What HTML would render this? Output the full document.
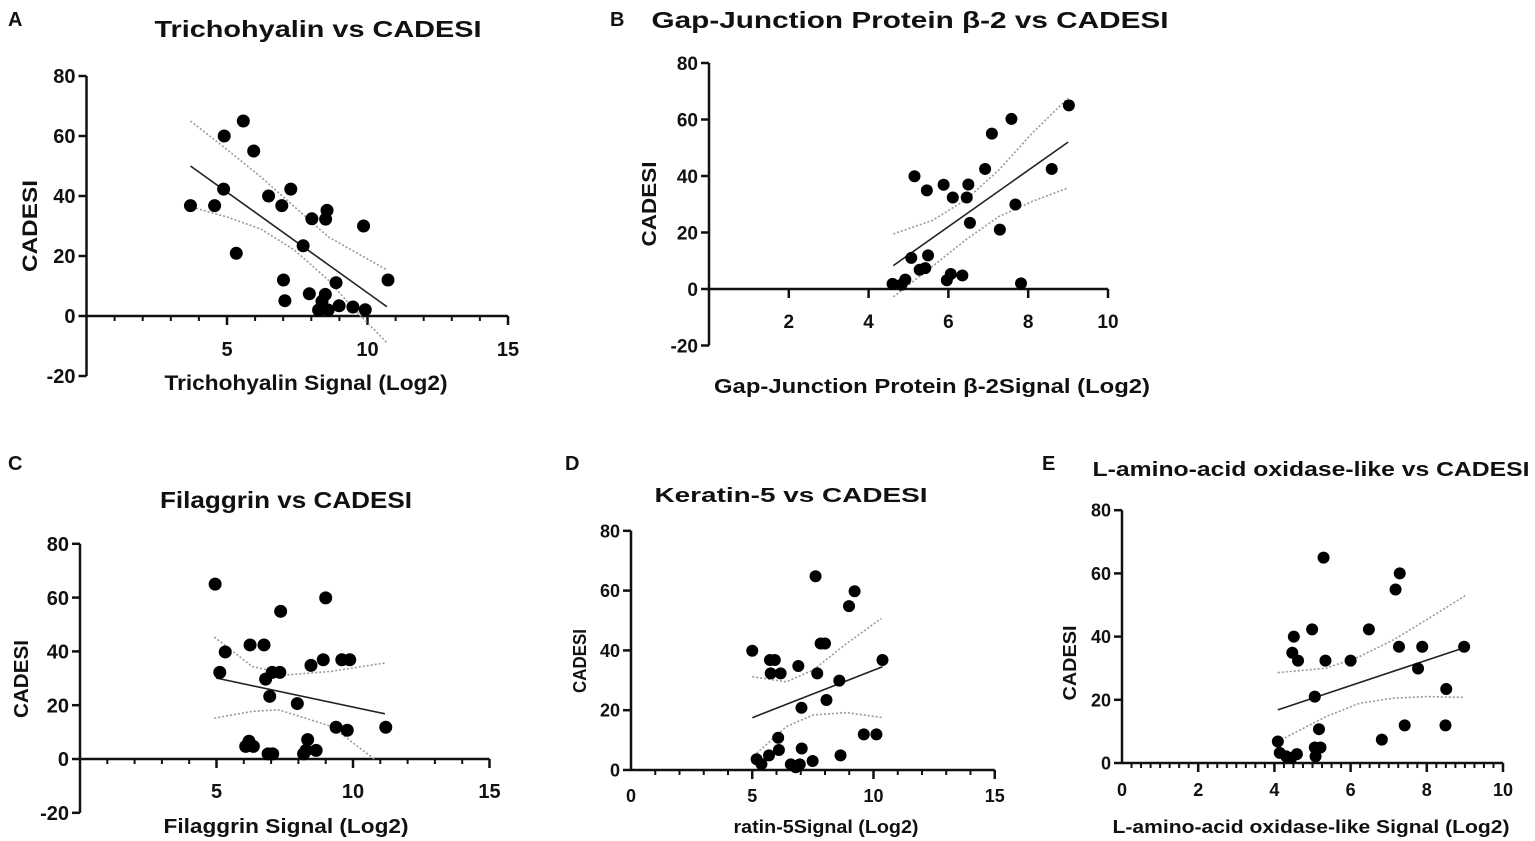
<!DOCTYPE html>
<html><head><meta charset="utf-8"><style>
html,body{margin:0;padding:0;background:#fff}
svg{display:block}
text{font-family:"Liberation Sans",sans-serif;font-weight:bold;fill:#111}
</style></head><body>
<svg id="fig" width="1535" height="841" viewBox="0 0 1535 841"></svg>
<script>
// ---- Panel A data ----
const aX=[3.7,4.9,5.58,5.95,4.88,4.56,5.33,6.48,7.27,6.95,7.71,8.02,8.56,8.51,9.86,10.73,7.01,7.06,7.93,8.5,8.38,8.88,8.99,9.48,9.92,8.26,8.6];
const aY=[36.8,60,65,55,42.3,36.8,20.9,40,42.3,36.8,23.4,32.4,35.2,32.3,30,12,12,5.1,7.4,7.2,4.9,11.1,3.4,3,2.1,2,2];
const aFitX=[3.7,10.69];const aFitY=[50,3.1];
const aUpX=[3.7,5.0,6.2,7.4,8.6,10.7];const aUpY=[65,55.5,46.4,36.4,26.4,15.3];
const aLoX=[3.9,5.0,6.2,7.4,8.6,9.5,10.7];const aLoY=[35.9,33,29,22,12,2.5,-9];
// ---- Panel B data ----
const bX=[4.6,4.82,4.92,5.07,5.15,5.28,5.42,5.49,5.46,5.88,6.11,5.96,6.06,6.35,6.46,6.5,6.54,6.92,7.09,7.29,7.58,7.68,7.82,8.59,9.02];
const bY=[1.8,1.5,3.3,11,39.9,6.8,7.4,11.9,34.9,36.9,32.4,3.1,5.3,4.8,32.4,37,23.4,42.5,55,21,60.2,29.9,2,42.5,65];
const bFitX=[4.62,9.0];const bFitY=[8.3,52];
const bUpX=[4.62,5.6,6.44,7.27,8.1,9.0];const bUpY=[19.5,24.3,31.6,42.2,55.2,67.6];
const bLoX=[4.62,5.6,6.44,7.27,8.1,9.0];const bLoY=[-2.8,8,17.5,25.7,31,35.8];
// ---- Panel C data ----
const cX=[4.95,5.12,5.32,6.23,6.74,7.35,9.0,6.8,7.04,7.32,6.95,7.96,8.46,8.91,9.59,9.88,9.38,9.79,11.2,6.07,6.19,6.35,6.89,7.06,8.19,8.34,8.28,8.65];
const cY=[65,32.2,39.8,42.4,42.4,54.9,59.9,29.7,32.2,32.2,23.3,20.6,34.8,36.9,36.9,36.9,11.8,10.7,11.8,4.7,6.6,4.7,1.9,1.9,1.9,7.2,3.2,3.2];
const cFitX=[4.98,11.17];const cFitY=[30.1,16.8];
const cUpX=[4.92,6.31,7.65,9.22,11.17];const cUpY=[45.3,34.4,31.3,32.6,35.7];
const cLoX=[4.92,6.31,7.28,9.22,10.8];const cLoY=[15.2,17.7,18.3,12.1,-0.2];
// ---- Panel D data ----
const dX=[5.0,5.73,5.93,5.76,6.17,6.9,7.61,8.99,9.22,7.82,8.0,7.68,8.59,8.06,7.03,10.37,6.07,6.1,5.69,5.18,5.38,6.59,6.96,6.79,7.04,7.49,8.64,9.6,10.12];
const dY=[39.9,36.8,36.8,32.3,32.3,34.8,64.8,54.8,59.8,42.3,42.3,32.3,29.9,23.4,20.8,36.8,10.8,6.7,4.9,3.6,2,1.9,1.9,0.9,7.2,3,4.9,11.9,11.9];
const dFitX=[5.0,10.37];const dFitY=[17.5,34.5];
const dUpX=[5,6.41,7.51,8.89,10.33];const dUpY=[31.2,29.5,33.4,42.3,50.7];
const dLoX=[5.18,6.41,7.51,8.89,10.33];const dLoY=[5.6,14.5,18.4,19.2,17.6];
// ---- Panel E data ----
const eX=[5.29,7.29,7.18,4.99,6.48,4.51,4.47,4.62,5.34,6.0,7.27,7.88,8.98,7.77,5.06,8.51,7.42,8.49,6.82,4.09,5.17,5.06,5.21,5.08,4.14,4.31,4.44,4.59];
const eY=[65,60,54.9,42.3,42.3,40,34.9,32.4,32.4,32.4,36.8,36.8,36.8,29.9,21,23.4,11.9,11.9,7.4,6.8,10.7,4.9,4.9,2.1,3.2,2.1,1.6,2.8];
const eFitX=[4.09,8.98];const eFitY=[16.8,36.5];
const eUpX=[4.09,5.36,6.24,7.11,7.99,9.04];const eUpY=[28.6,30,33.7,38.9,45.3,53.2];
const eLoX=[4.09,5.36,6.24,7.11,7.99,8.95];const eLoY=[6.8,14.7,18.9,20.5,21,20.8];

const NS='http://www.w3.org/2000/svg';
const svg=document.getElementById('fig');
function mk(tag,attrs,parent){const e=document.createElementNS(NS,tag);for(const k in attrs)e.setAttribute(k,attrs[k]);(parent||svg).appendChild(e);return e;}
function txt(s,x,y,size,parent,anchor,rot,len){const t=mk('text',{x:x,y:y,'font-size':size,'text-anchor':anchor||'middle'},parent);if(rot)t.setAttribute('transform','rotate(-90 '+x+' '+y+')');if(len){t.setAttribute('textLength',len);t.setAttribute('lengthAdjust','spacingAndGlyphs');}t.textContent=s;return t;}

function panel(p){
  const g=mk('g',{});
  
  
  const sx=v=>p.ox+v*p.kx, sy=v=>p.oy-v*p.ky;
  const ya=mk('line',{x1:p.ox,y1:sy(p.ymin),x2:p.ox,y2:sy(80),stroke:'#111','stroke-width':2.5},g);
  
  
  for(let v=p.ymin;v<=80;v+=20){
    mk('line',{x1:p.ox-8,y1:sy(v),x2:p.ox,y2:sy(v),stroke:'#111','stroke-width':2.5},g);
    const t=txt(String(v),p.ox-11,sy(v)+p.tf*0.36,p.tf,g,'end');
    
    
  }
  const xa=mk('line',{x1:p.ox,y1:p.oy,x2:sx(p.xmax),y2:p.oy,stroke:'#111','stroke-width':2.5},g);
  
  
  if(p.minor){for(let v=p.minor;v<p.xmax-1e-6;v+=p.minor){mk('line',{x1:sx(v),y1:p.oy,x2:sx(v),y2:p.oy+5,stroke:'#111','stroke-width':2},g);}}
  for(let v=p.major;v<=p.xmax+1e-6;v+=p.major){mk('line',{x1:sx(v),y1:p.oy,x2:sx(v),y2:p.oy+9,stroke:'#111','stroke-width':2.5},g);}
  for(const v of p.xlabels){const t=txt(String(v),sx(v),p.xly,p.xtf||p.tf,g);
    
    }
  const poly=(xs,ys)=>xs.map((x,i)=>sx(x).toFixed(1)+','+sy(ys[i]).toFixed(1)).join(' ');
  const u=mk('polyline',{points:poly(p.ux,p.uy),fill:'none',stroke:'#9a9a9a','stroke-width':1.6,'stroke-dasharray':'2 2'},g);
  
  
  const l=mk('polyline',{points:poly(p.lx,p.ly),fill:'none',stroke:'#9a9a9a','stroke-width':1.6,'stroke-dasharray':'2 2'},g);
  
  
  const f=mk('polyline',{points:poly(p.fx,p.fy),fill:'none',stroke:'#222','stroke-width':1.6},g);
  
  
  for(let i=0;i<p.x.length;i++){
    const c=mk('circle',{cx:sx(p.x[i]),cy:sy(p.y[i]),r:p.r,fill:'#000'},g);
    
    
  }
  const L=txt(p.letter,p.lx0,p.ly0,20,g,'start');
  
  
  const T=txt(p.title,p.tx,p.ty,p.tsz,g,'middle',false,p.tlen);
  
  
  const Y=txt('CADESI',p.yx,p.yy,p.ysz,g,'middle',true,p.ylen);
  
  
  const X=txt(p.xt,p.xtx,p.xty,p.xsz,g,'middle',false,p.xlen);
  
  
}

panel({name:'panel-a',ox:86.5,kx:28.1,oy:316,ky:3.0,ymin:-20,xmax:15,minor:1,major:5,xlabels:[5,10,15],xly:356,tf:20,
 x:aX,y:aY,fx:aFitX,fy:aFitY,ux:aUpX,uy:aUpY,lx:aLoX,ly:aLoY,r:6.5,
 letter:'A',lx0:8,ly0:26,title:'Trichohyalin vs CADESI',tx:318,ty:37,tsz:23,tlen:327,yx:37,yy:226,ysz:21,ylen:92,
 xt:'Trichohyalin Signal (Log2)',xtx:306,xty:390,xsz:21,xlen:283});
panel({name:'panel-b',ox:709,kx:39.9,oy:289,ky:2.825,ymin:-20,xmax:10,minor:0,major:2,xlabels:[2,4,6,8,10],xly:328,tf:19,
 x:bX,y:bY,fx:bFitX,fy:bFitY,ux:bUpX,uy:bUpY,lx:bLoX,ly:bLoY,r:6,
 letter:'B',lx0:610,ly0:26,title:'Gap-Junction Protein β-2 vs CADESI',tx:910,ty:28,tsz:23,tlen:517,yx:656,yy:204,ysz:20,ylen:85,
 xt:'Gap-Junction Protein β-2Signal (Log2)',xtx:932,xty:393,xsz:20,xlen:436});
panel({name:'panel-c',ox:80,kx:27.3,oy:759,ky:2.69,ymin:-20,xmax:15,minor:1,major:5,xlabels:[5,10,15],xly:798,tf:20,
 x:cX,y:cY,fx:cFitX,fy:cFitY,ux:cUpX,uy:cUpY,lx:cLoX,ly:cLoY,r:6.5,
 letter:'C',lx0:8,ly0:470,title:'Filaggrin vs CADESI',tx:286,ty:508,tsz:23,tlen:252,yx:28,yy:679,ysz:20,ylen:78,
 xt:'Filaggrin Signal (Log2)',xtx:286,xty:833,xsz:20,xlen:245});
panel({name:'panel-d',ox:631,kx:24.25,oy:770,ky:2.99,ymin:0,xmax:15,minor:1,major:5,xlabels:[0,5,10,15],xly:802,tf:18,
 x:dX,y:dY,fx:dFitX,fy:dFitY,ux:dUpX,uy:dUpY,lx:dLoX,ly:dLoY,r:6,
 letter:'D',lx0:565,ly0:470,title:'Keratin-5 vs CADESI',tx:791,ty:502,tsz:20,tlen:273,yx:586,yy:661,ysz:18,ylen:64,
 xt:'ratin-5Signal (Log2)',xtx:826,xty:833,xsz:18,xlen:185});
panel({name:'panel-e',ox:1122,kx:38.1,oy:763,ky:3.16,ymin:0,xmax:10,minor:0.25,major:2,xlabels:[0,2,4,6,8,10],xly:796,tf:18,
 x:eX,y:eY,fx:eFitX,fy:eFitY,ux:eUpX,uy:eUpY,lx:eLoX,ly:eLoY,r:6,
 letter:'E',lx0:1042,ly0:470,title:'L-amino-acid oxidase-like vs CADESI',tx:1311,ty:476,tsz:20,tlen:437,yx:1076,yy:663,ysz:18,ylen:75,
 xt:'L-amino-acid oxidase-like Signal (Log2)',xtx:1311,xty:833,xsz:18,xlen:397});
</script>
</body></html>
